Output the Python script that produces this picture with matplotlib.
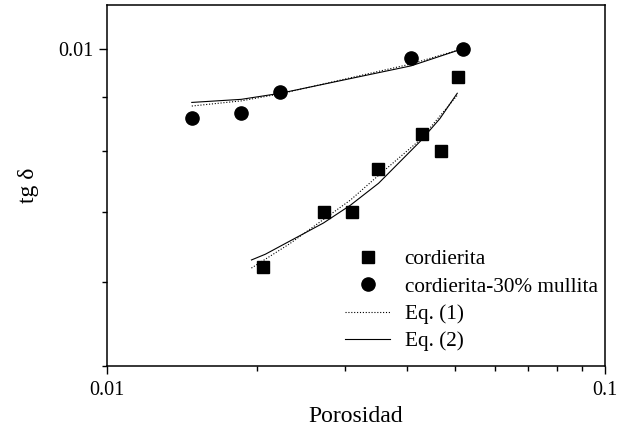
import matplotlib.pyplot as plt
from matplotlib.ticker import FixedLocator, NullFormatter, FixedFormatter

# measured points
cord_x = [0.0206, 0.0273, 0.0311, 0.0350, 0.0429, 0.0468, 0.0506]
cord_y = [0.00620, 0.00700, 0.00700, 0.00769, 0.00829, 0.00800, 0.00939]
mull_x = [0.0148, 0.0186, 0.0223, 0.0408, 0.0519]
mull_y = [0.00860, 0.00869, 0.00909, 0.00980, 0.0100]

# model curves, cordierita
eq1_cord_x = [0.0195, 0.0233, 0.0308, 0.0351, 0.0425, 0.0505]
eq1_cord_y = [0.00619, 0.00653, 0.00718, 0.00758, 0.00819, 0.00903]
eq2_cord_x = [0.0195, 0.0208, 0.0272, 0.0308, 0.0351, 0.0425, 0.0466, 0.0505]
eq2_cord_y = [0.00630, 0.00638, 0.00683, 0.00710, 0.00745, 0.00816, 0.00858, 0.00907]

# model curves, cordierita-30% mullita
eq1_mull_x = [0.0148, 0.0186, 0.0223, 0.0408, 0.0519]
eq1_mull_y = [0.00882, 0.00892, 0.00906, 0.00967, 0.0100]
eq2_mull_x = [0.0148, 0.0186, 0.0223, 0.0408, 0.0519]
eq2_mull_y = [0.00889, 0.00895, 0.00907, 0.00963, 0.0100]

x_ticks = [0.01, 0.1]
x_labels = ["0.01", "0.1"]
y_ticks = [0.01]
y_labels = ["0.01"]

plt.rcParams["font.family"] = ["Liberation Serif", "DejaVu Serif"]

fig = plt.figure(figsize=(6.26, 4.30), dpi=100)
ax = fig.add_axes([0.1709, 0.1495, 0.7956, 0.8389])

dot = (0, (1, 1.6))
ax.plot(cord_x, cord_y, "s", color="black", markersize=8.6, label="cordierita")
ax.plot(mull_x, mull_y, "o", color="black", markersize=9.5, label="cordierita-30% mullita")
ax.plot(eq1_cord_x, eq1_cord_y, color="black", linestyle=dot, linewidth=0.8, label="Eq. (1)")
ax.plot(eq2_cord_x, eq2_cord_y, color="black", linewidth=0.8, label="Eq. (2)")
ax.plot(eq1_mull_x, eq1_mull_y, color="black", linestyle=dot, linewidth=0.8)
ax.plot(eq2_mull_x, eq2_mull_y, color="black", linewidth=0.8)

ax.set_xscale("log")
ax.set_yscale("log")
ax.set_xlim(0.01, 0.1)
ax.set_ylim(0.005, 0.011)

ax.xaxis.set_major_locator(FixedLocator(x_ticks))
ax.xaxis.set_major_formatter(FixedFormatter(x_labels))
ax.xaxis.set_minor_locator(FixedLocator([k * 0.01 for k in range(2, 10)]))
ax.xaxis.set_minor_formatter(NullFormatter())
ax.yaxis.set_major_locator(FixedLocator(y_ticks))
ax.yaxis.set_major_formatter(FixedFormatter(y_labels))
ax.yaxis.set_minor_locator(FixedLocator([k * 0.001 for k in range(5, 10)]))
ax.yaxis.set_minor_formatter(NullFormatter())

ax.tick_params(which="major", direction="out", length=6, width=1, labelsize=14.5)
ax.tick_params(which="minor", direction="out", length=3.5, width=1)
ax.tick_params(axis="x", which="major", pad=5)
for s in ax.spines.values():
    s.set_linewidth(1.1)

ax.set_xlabel("Porosidad", fontsize=17, labelpad=4)
ax.set_ylabel("tg δ", fontsize=17, labelpad=14)

ax.legend(loc="upper left", bbox_to_anchor=(0.46, 0.3455), frameon=False, fontsize=15.3,
          handlelength=2.16, handletextpad=0.66, labelspacing=0.35, borderpad=0.4,
          borderaxespad=0)

fig.savefig("out.png", dpi=100)
